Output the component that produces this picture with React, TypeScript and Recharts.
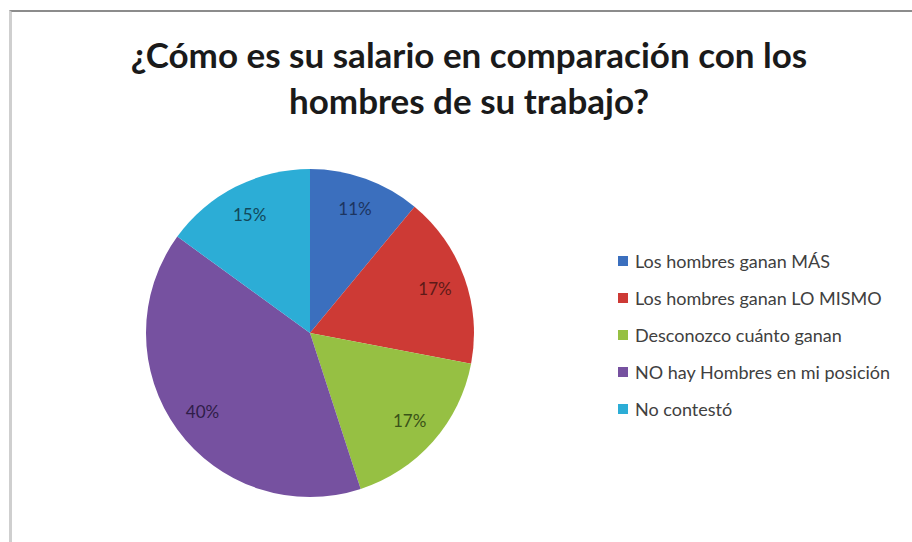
import { Cell, Legend, Pie, PieChart } from 'recharts'

const categories = [
  'Los hombres ganan MÁS',
  'Los hombres ganan LO MISMO',
  'Desconozco cuánto ganan',
  'NO hay Hombres en mi posición',
  'No contestó',
]
const percents = [11, 17, 17, 40, 15]
const colors = ['#3b6fbe', '#cd3a35', '#96c043', '#7651a0', '#2cadd6']
const labelColors = ['#1d3560', '#5e1a18', '#3a5218', '#2f1d48', '#12485a']

const rows = categories.map((name, i) => ({ name, value: percents[i] }))

const FONT = 'Lato, "Open Sans", "Noto Sans", sans-serif'
const RAD = Math.PI / 180

// data labels sit at ~80% of the radius, like Excel's "best fit"
function renderLabel(props: any) {
  const { cx, cy, midAngle, outerRadius, index, value } = props
  const r = outerRadius * 0.81
  const x = cx + r * Math.cos(-midAngle * RAD)
  const y = cy + r * Math.sin(-midAngle * RAD)
  return (
    <text x={x} y={y} fill={labelColors[index]} textAnchor="middle" dominantBaseline="central" fontSize={17} fontFamily={FONT}>
      {value}%
    </text>
  )
}

// keep the legend in data order (recharts sorts its payload by default)
function LegendList() {
  return (
    <div style={{ fontFamily: FONT, fontSize: 18, color: '#404040' }}>
      {categories.map((name, i) => (
        <div key={name} style={{ display: 'flex', alignItems: 'center', height: 37, whiteSpace: 'nowrap' }}>
          <span style={{ width: 10, height: 10, background: colors[i], marginRight: 7, display: 'inline-block' }} />
          {name}
        </div>
      ))}
    </div>
  )
}

export default function App() {
  return (
    <div style={{ position: 'absolute', left: 0, top: 0, width: 912, height: 542, background: '#fff', overflow: 'hidden' }}>
      <div
        style={{
          position: 'absolute',
          left: 9,
          top: 10,
          right: -10,
          bottom: -10,
          borderTop: '2px solid #8c8c8c',
          borderLeft: '3px solid #cfcfcf',
        }}
      />
      <div
        style={{
          position: 'absolute',
          left: 0,
          top: 31,
          width: 938,
          textAlign: 'center',
          fontFamily: FONT,
          fontWeight: 700,
          fontSize: 35,
          lineHeight: '46px',
          color: '#1a1a1a',
        }}
      >
        ¿Cómo es su salario en comparación con los
        <br />
        hombres de su trabajo?
      </div>
      <PieChart width={912} height={542} style={{ position: 'absolute', left: 0, top: 0 }}>
        <Pie
          data={rows}
          dataKey="value"
          nameKey="name"
          cx={305}
          cy={328}
          outerRadius={164}
          startAngle={90}
          endAngle={-270}
          stroke="none"
          label={renderLabel}
          labelLine={false}
          isAnimationActive={false}
        >
          {rows.map((r, i) => (
            <Cell key={r.name} fill={colors[i]} />
          ))}
        </Pie>
        <Legend
          layout="vertical"
          content={<LegendList />}
          wrapperStyle={{ left: 618, top: 242, width: 294 }}
        />
      </PieChart>
    </div>
  )
}
